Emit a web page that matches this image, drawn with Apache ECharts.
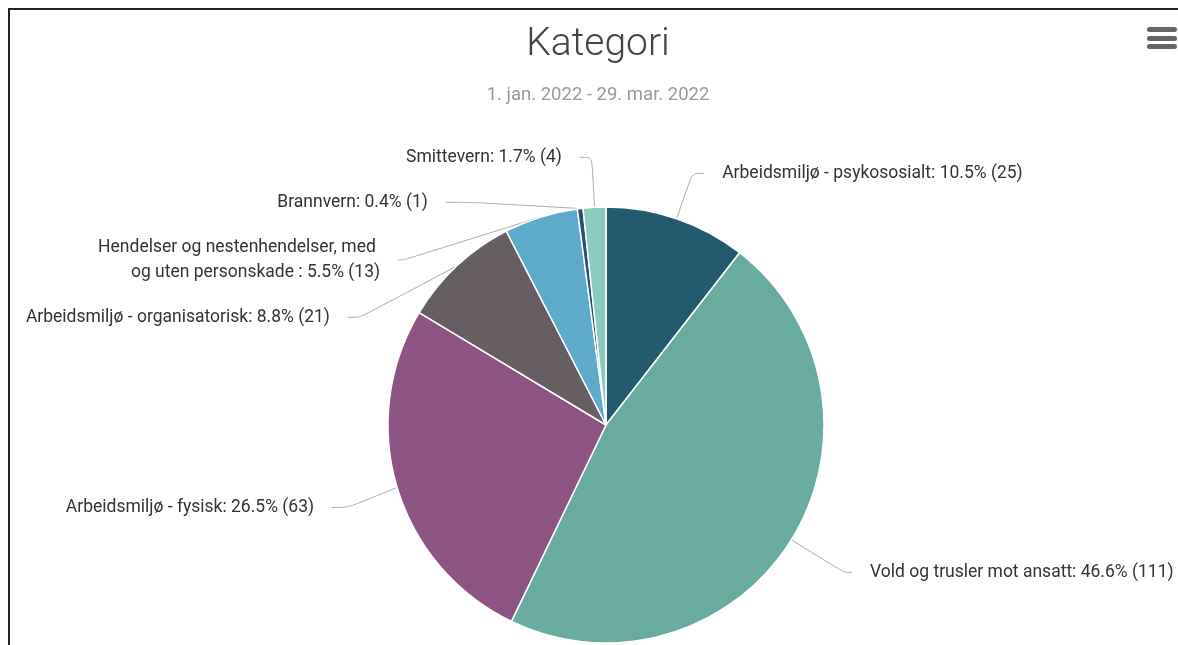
<!DOCTYPE html>
<html>
<head>
<meta charset="utf-8">
<script src="https://cdn.jsdelivr.net/npm/echarts@6/dist/echarts.min.js"></script>
<style>
  html, body { margin: 0; padding: 0; background: #fff; overflow: hidden; }
  #frame { position: absolute; left: 8px; top: 8px; width: 1300px; height: 800px; border: 2px solid #222; }
  #chart { position: absolute; left: 0; top: 0; width: 1178px; height: 645px; }
</style>
</head>
<body>
<div id="frame"></div>
<div id="chart"></div>
<script>
// data
var categories = [
    'Arbeidsmiljø - psykososialt',
    'Vold og trusler mot ansatt',
    'Arbeidsmiljø - fysisk',
    'Arbeidsmiljø - organisatorisk',
    'Hendelser og nestenhendelser, med og uten personskade ',
    'Brannvern',
    'Smittevern'
];
var counts = [25, 111, 63, 21, 13, 1, 4];

var total = counts.reduce(function (a, b) { return a + b; }, 0);

var chart = echarts.init(document.getElementById('chart'));

// slice colours and label line tweaks
var colors = ['#245a6d', '#6aaba0', '#8d5383', '#665e63', '#5eaacb', '#2c4f6b', '#8ccbbf'];
var lineLen = { 0: 48, 1: 62, 2: 70, 3: 70, 4: 45 };
var lineLen2 = { 1: 8, 2: 16, 4: 18, 5: 27 };

var pieData = categories.map(function (name, i) {
    var item = { name: name, value: counts[i], itemStyle: { color: colors[i] } };
    if (lineLen[i] || lineLen2[i]) {
        item.labelLine = {};
        if (lineLen[i]) item.labelLine.length = lineLen[i];
        if (lineLen2[i]) item.labelLine.length2 = lineLen2[i];
    }
    // long name wraps on two lines
    if (i === 4) {
        item.label = { width: 285, overflow: 'break', align: 'center' };
    }
    return item;
});

var option = {
    animation: false,
    title: {
        text: 'Kategori',
        subtext: '1. jan. 2022 - 29. mar. 2022',
        left: 593,
        textAlign: 'center',
        top: 21,
        itemGap: 21,
        textStyle: { fontFamily: 'Roboto', fontWeight: 300, fontSize: 39, color: '#444' },
        subtextStyle: { fontFamily: 'Roboto', fontSize: 18.5, color: '#999' }
    },
    graphic: [
        { type: 'rect', shape: { x: 1147, y: 27, width: 30, height: 5, r: 2.5 }, style: { fill: '#666' } },
        { type: 'rect', shape: { x: 1147, y: 36, width: 30, height: 5, r: 2.5 }, style: { fill: '#666' } },
        { type: 'rect', shape: { x: 1147, y: 44, width: 30, height: 5, r: 2.5 }, style: { fill: '#666' } }
    ],
    series: [
        {
            type: 'pie',
            center: [606, 425],
            radius: 218,
            startAngle: 90,
            clockwise: true,
            itemStyle: { borderColor: '#fff', borderWidth: 1.5 },
            label: {
                fontFamily: 'Roboto',
                fontSize: 17.5,
                color: '#333',
                lineHeight: 25,
                padding: [9, 0],
                overflow: 'none',
                distanceToLabelLine: 18,
                formatter: function (p) {
                    return p.name + ': ' + (p.value / total * 100).toFixed(1) + '% (' + p.value + ')';
                }
            },
            labelLine: {
                length: 50,
                length2: 12,
                smooth: 0.3,
                lineStyle: { color: '#aaa', width: 1 }
            },
            data: pieData
        }
    ]
};

chart.setOption(option);
</script>
</body>
</html>
